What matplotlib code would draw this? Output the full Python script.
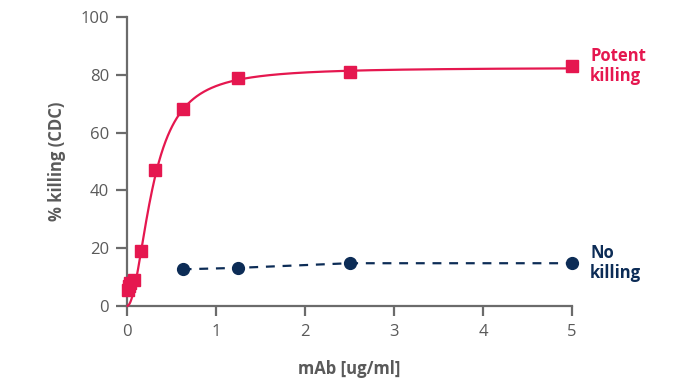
#!/usr/bin/env python3
"""CDC killing vs mAb concentration: potent vs no killing."""
import numpy as np
import matplotlib
matplotlib.use('Agg')
import matplotlib.pyplot as plt

plt.rcParams['font.family'] = ['Open Sans', 'DejaVu Sans']

# serial dilution of the potent antibody
potent_conc = [0.0098, 0.0195, 0.039, 0.078, 0.156, 0.3125, 0.625, 1.25, 2.5, 5.0]
potent_kill = [5.5, 7.0, 8.0, 9.0, 19.0, 47.0, 68.0, 79.0, 81.0, 83.0]

# non-killing antibody
none_conc = [0.625, 1.25, 2.5, 5.0]
none_kill = [12.7, 13.2, 14.8, 14.8]

# Hill fit for the potent curve
FIT_TOP, FIT_EC50, FIT_HILL = 82.5, 0.29, 2.0

RED = '#E5174F'
NAVY = '#0C2C56'
GREY = '#5a5a5a'
AXIS = '#6b6b6b'

fig = plt.figure(figsize=(6.92, 3.88), dpi=100)
ax = fig.add_axes([127 / 692, 1 - 306 / 388, 445 / 692, 289 / 388])

xs = np.linspace(0.008, 5, 600)
ax.plot(xs, FIT_TOP * xs**FIT_HILL / (FIT_EC50**FIT_HILL + xs**FIT_HILL),
        color=RED, lw=1.6, clip_on=False, zorder=3)
ax.plot(potent_conc, potent_kill, 's', color=RED, ms=8.5, clip_on=False, zorder=4)

ax.plot(none_conc, none_kill, '--', color=NAVY, lw=1.6, dashes=(4, 3.5), zorder=3)
ax.plot(none_conc, none_kill, 'o', color=NAVY, ms=8.5, clip_on=False, zorder=4)

ax.set_xlim(0, 5)
ax.set_ylim(0, 100)
ax.set_xticks(range(0, 6))
ax.set_yticks(range(0, 101, 20))

for s in ('top', 'right'):
    ax.spines[s].set_visible(False)
for s in ('left', 'bottom'):
    ax.spines[s].set_color(AXIS)
    ax.spines[s].set_linewidth(1.6)
ax.tick_params(axis='y', direction='out', length=8, width=1.6, color=AXIS,
               labelcolor=GREY, labelsize=12, pad=5)
ax.tick_params(axis='x', direction='out', length=7, width=1.6, color=AXIS,
               labelcolor=GREY, labelsize=12, pad=6)

ax.set_ylabel('% killing (CDC)', fontsize=12, fontweight='bold', color=GREY, labelpad=10)
ax.set_xlabel('mAb [ug/ml]', fontsize=12, fontweight='bold', color=GREY, labelpad=14)

fig.text(590 / 692, 1 - 66 / 388, 'Potent\nkilling', color=RED, fontsize=12,
         fontweight='bold', va='center', ha='left', linespacing=1.15)
fig.text(590 / 692, 1 - 263 / 388, 'No\nkilling', color=NAVY, fontsize=12,
         fontweight='bold', va='center', ha='left', linespacing=1.15)

fig.savefig('out.png', dpi=100)
